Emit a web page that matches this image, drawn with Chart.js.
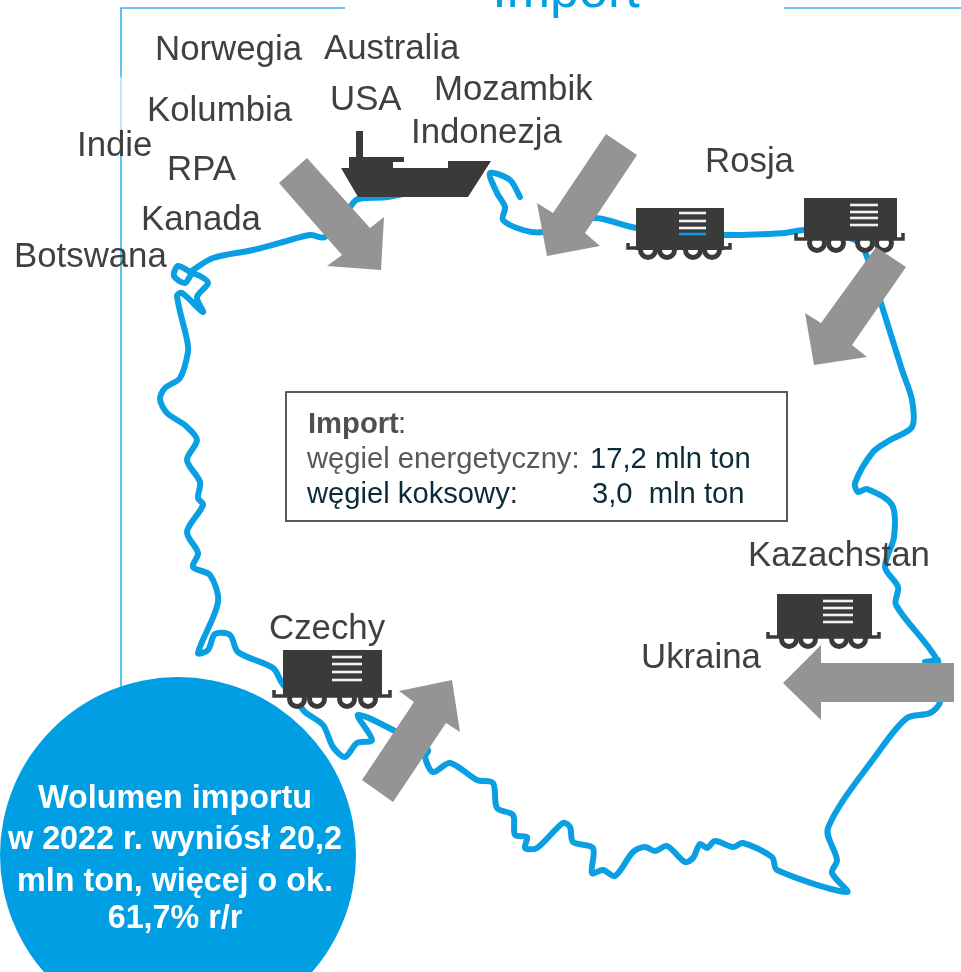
<!DOCTYPE html>
<html lang="pl"><head><meta charset="utf-8">
<title>Import</title>
<style>html,body{margin:0;padding:0;background:#fff}canvas{display:block}</style>
<script src="https://cdn.jsdelivr.net/npm/chart.js@4"></script>
</head><body><canvas id="c" width="961" height="972"></canvas>
<script>
const borderPath = [[190,272],[178,266],[174,276],[185,283],[192,274],[200,276],[208,283],[197,297],[203,312],[182,293],[177,296],[187,340],[188,352],[180,378],[165,388],[160,399],[167,413],[186,426],[197,440],[187,460],[200,482],[198,498],[203,505],[187,532],[198,553],[193,567],[210,575],[218,602],[198,653],[208,650],[215,634],[230,635],[238,652],[273,668],[282,683],[296,700],[305,712],[323,725],[333,747],[345,757],[357,743],[372,740],[358,715],[393,730],[428,750],[425,757],[433,772],[450,763],[477,780],[493,783],[497,808],[513,815],[515,835],[527,837],[525,848],[537,848],[563,823],[570,827],[573,842],[593,848],[592,873],[603,870],[615,876],[633,852],[645,847],[655,851],[667,846],[685,862],[693,858],[700,844],[707,848],[715,841],[733,847],[743,843],[772,857],[777,870],[847,892],[832,873],[837,860],[828,828],[880,750],[907,718],[930,713],[940,702],[938,662],[896,605],[898,587],[885,567],[894,537],[892,505],[867,489],[858,492],[855,483],[873,452],[890,440],[912,427],[912,400],[902,370],[880,300],[863,247],[850,238],[805,230],[785,233],[723,235],[637,228],[593,218],[543,232],[523,230],[503,220],[505,207],[497,193],[490,173],[510,180],[520,197]];
const balticPath = [[190,272],[213,258],[253,250],[283,242],[310,235],[325,237],[350,207],[358,199],[388,197],[420,190]];
const easternHook = [[925,662],[938,660]];
const frameStrong = [[[345,8],[121,8],[121,77]],[[121,130],[121,690]],[[784,8],[961,8]]];
const frameFaint = [[121,77],[121,130]];
const arrows = [
 [[307,158],[370,228],[384,217],[381,270],[327,266],[342,255],[279,183],[307,158]],
 [[606,134],[637,155],[585,233],[600,246],[547,256],[537,203],[553,213],[606,134]],
 [[876,247],[906,267],[852,345],[867,357],[814,365],[805,313],[821,323],[876,247]],
 [[954,663],[954,702],[821,702],[821,720],[783,683],[821,645],[821,663],[954,663]],
 [[362,780],[393,802],[446,723],[460,732],[452,680],[399,691],[414,702],[362,780]]
];
const shipHull = [[356,157],[356,131],[363,131],[363,157],[404,157],[404,162],[393,162],[393,168],[448,168],[448,161],[491,161],[468,197],[358,197],[341,168],[349,168],[349,157],[356,157]];
const wagonBodies = [
 [[636,208],[724,208],[724,250],[636,250],[636,208]],
 [[804,198],[897,198],[897,240],[804,240],[804,198]],
 [[777,594],[872,594],[872,637],[777,637],[777,594]],
 [[283,650],[382,650],[382,696],[283,696],[283,650]]
];
const wagonChassis = [
 [[628,243],[628,248],[730,248],[730,243]],
 [[796,233],[796,239],[903,239],[903,233]],
 [[768,632],[768,637],[879,637],[879,632]],
 [[274,690],[274,696],[390,696],[390,690]]
];
const wagonWheels = [
 [[648,250],[667,250],[693,250],[712,250]],
 [[817,243],[836,243],[865,243],[884,243]],
 [[789,639],[808,639],[839,639],[858,639]],
 [[297,699],[317,699],[347,699],[368,699]]
];
const wagonLouvres = [
 [[679,706],[213,221,228]],
 [[850,878],[205,212,218,225]],
 [[823,853],[601,608,615,622]],
 [[332,362],[657,664,672,680]]
];
const wagonGlimpse = [[679,234],[706,234]];
const infoBox = [[286,392],[787,392],[787,521],[286,521],[286,392]];
const bubble = [[178,855]];
const countryNames = ['Norwegia','Australia','USA','Mozambik','Indonezja','Kolumbia','Indie','RPA','Kanada','Botswana','Rosja','Kazachstan','Ukraina','Czechy'];
const countryX = [155,324,330,434,411,147,77,167,141,14,705,748,641,269];
const countryY = [60,59,110,100,143,121,156,180,230,267,172,566,668,639];
const bubbleLines = ['Wolumen importu','w 2022 r. wyniósł 20,2','mln ton, więcej o ok.','61,7% r/r'];
const bubbleBaselines = [808,849,891,928];
const infoRows = [
 {x:308,y:433,t:'Import',c:'#505050',w:'bold'},
 {x:398,y:433,t:':',c:'#505050',w:'normal'},
 {x:307,y:468,t:'węgiel energetyczny:',c:'#595959',w:'normal'},
 {x:590,y:468,t:'17,2 mln ton',c:'#0c2b3a',w:'normal'},
 {x:307,y:503,t:'węgiel koksowy:',c:'#0c2b3a',w:'normal'},
 {x:592,y:503,t:'3,0  mln ton',c:'#0c2b3a',w:'normal'}
];
const titleText = 'Import';

const BLUE='#0a9fe3', DARK='#3a3a3a', GREY='#949494';
const pts = a => a.map(p => ({x:p[0],y:p[1]}));
const stroke = (a,color,w,extra={}) => ({data:pts(a),showLine:true,borderColor:color,borderWidth:w,pointRadius:0,fill:false,tension:0,borderCapStyle:'round',borderJoinStyle:'round',...extra});
const solid = (a,color) => stroke(a,color,0,{backgroundColor:color,fill:'shape'});

const layers = [];
frameStrong.forEach(f => layers.push(stroke(f,'#37b4ef',1.6,{borderCapStyle:'butt'})));
layers.push(stroke(frameFaint,'#a5dcf6',1.4,{borderCapStyle:'butt'}));
layers.push(stroke(borderPath,BLUE,6,{tension:0.3}));
layers.push(stroke(balticPath,BLUE,6,{tension:0.3}));
layers.push(stroke(easternHook,BLUE,6));
wagonWheels.forEach(w => layers.push({data:pts(w),showLine:false,pointRadius:7.5,pointBackgroundColor:'#fff',pointBorderColor:DARK,pointBorderWidth:5}));
wagonChassis.forEach(c => layers.push(stroke(c,DARK,3.5,{borderCapStyle:'butt',borderJoinStyle:'miter'})));
wagonBodies.forEach(b => layers.push(solid(b,DARK)));
wagonLouvres.forEach(l => l[1].forEach(y => layers.push(stroke([[l[0][0],y],[l[0][1],y]],'#f2f2f2',2.6,{borderCapStyle:'butt'}))));
layers.push(stroke(wagonGlimpse,BLUE,2.6,{borderCapStyle:'butt'}));
layers.push(solid(shipHull,DARK));
arrows.forEach(a => layers.push(solid(a,GREY)));
layers.push(stroke(infoBox,'#595959',2,{borderJoinStyle:'miter'}));
layers.push({data:pts(bubble),showLine:false,pointRadius:178,pointBackgroundColor:'#009fe3',pointBorderWidth:0});

const textPlugin = {id:'texts',afterDatasetsDraw(chart){
  const {ctx,scales:{x,y}} = chart;
  const F='"Liberation Sans",Arial,sans-serif';
  ctx.save();
  ctx.textBaseline='alphabetic';
  ctx.textAlign='left';
  ctx.fillStyle='#404040'; ctx.font='34.8px '+F;
  countryNames.forEach((n,i)=>ctx.fillText(n,x.getPixelForValue(countryX[i]),y.getPixelForValue(countryY[i])));
  infoRows.forEach(r=>{ctx.fillStyle=r.c;ctx.font=r.w+' 29.2px '+F;ctx.fillText(r.t,x.getPixelForValue(r.x),y.getPixelForValue(r.y));});
  ctx.textAlign='center';
  ctx.fillStyle='#fff'; ctx.font='bold 32.3px '+F;
  bubbleLines.forEach((l,i)=>ctx.fillText(l,x.getPixelForValue(175),y.getPixelForValue(bubbleBaselines[i])));
  ctx.fillStyle='#00a0e3'; ctx.font='52px '+F;
  ctx.fillText(titleText,x.getPixelForValue(566),y.getPixelForValue(7));
  ctx.restore();
}};

new Chart(document.getElementById('c'),{
  type:'scatter',
  data:{datasets:layers.reverse()},
  options:{responsive:false,animation:false,events:[],
    layout:{padding:0,autoPadding:false},
    plugins:{legend:{display:false},tooltip:{enabled:false},title:{display:false}},
    clip:false,
    scales:{x:{type:'linear',min:0,max:961,display:false},y:{type:'linear',min:0,max:972,reverse:true,display:false}}
  },
  plugins:[textPlugin]
});
</script></body></html>
